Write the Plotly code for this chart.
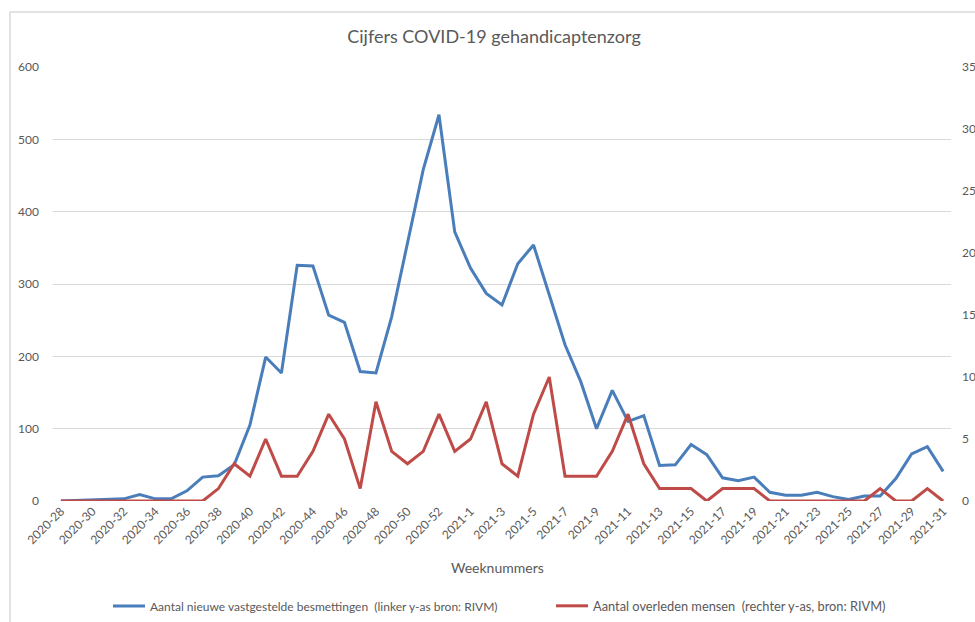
import plotly.graph_objects as go

weeks = [f"2020-{w}" for w in range(28, 54)] + [f"2021-{w}" for w in range(1, 32)]

besmettingen = [0, 1, 2, 3, 3, 9, 3, 3, 14, 33, 35, 50, 105, 199, 177, 326, 325, 257, 247, 179,
                177, 255, 355, 458, 534, 372, 322, 287, 271, 328, 354, 285, 216, 165, 100, 153,
                110, 118, 49, 50, 78, 64, 32, 28, 33, 12, 8, 8, 12, 6, 2, 7, 7, 31, 65, 75, 41]

overleden = [0, 0, 0, 0, 0, 0, 0, 0, 0, 0, 1, 3, 2, 5, 2, 2, 4, 7, 5, 1,
             8, 4, 3, 4, 7, 4, 5, 8, 3, 2, 7, 10, 2, 2, 2, 4, 7, 3, 1, 1,
             1, 0, 1, 1, 1, 0, 0, 0, 0, 0, 0, 0, 1, 0, 0, 1, 0]

tick_labels = weeks[::2]

FONT = "Lato, Open Sans, sans-serif"
GREY = "#595959"
W, H = 975, 622
L, R, T, B = 53, 24, 67, 121
pw, ph = W - L - R, H - T - B


def px_x(x):
    return (x - L) / pw


def px_y(y):
    return (H - B - y) / ph


fig = go.Figure()
fig.add_trace(go.Scatter(
    x=weeks, y=besmettingen, mode="lines",
    name="Aantal nieuwe vastgestelde besmettingen \u00a0(linker y-as bron: RIVM)",
    line=dict(color="#4A7EBB", width=3), yaxis="y", legend="legend"))
fig.add_trace(go.Scatter(
    x=weeks, y=overleden, mode="lines",
    name="Aantal overleden mensen \u00a0(rechter y-as, bron: RIVM)",
    line=dict(color="#BE4B48", width=3), yaxis="y2", legend="legend2"))

leg_common = dict(orientation="h", yanchor="middle", xanchor="left",
                  itemwidth=32, bgcolor="rgba(0,0,0,0)", borderwidth=0)

fig.update_layout(
    width=W, height=H,
    margin=dict(l=L, r=R, t=T, b=B, autoexpand=False),
    paper_bgcolor="white", plot_bgcolor="white",
    font=dict(family=FONT, color=GREY, size=12),
    title=dict(text="Cijfers COVID-19 gehandicaptenzorg", x=494 / W, xanchor="center",
               y=1 - 37 / H, yanchor="middle", font=dict(size=18, color=GREY, family=FONT)),
    xaxis=dict(type="category", categoryorder="array", categoryarray=weeks,
               range=[-0.5, len(weeks) - 0.5],
               tickmode="array", tickvals=tick_labels, ticktext=tick_labels,
               tickangle=-45, showgrid=False, showline=False, ticks="",
               tickfont=dict(size=12, color=GREY), zeroline=False),
    yaxis=dict(range=[0, 600], dtick=100, showgrid=True, gridcolor="#D9D9D9", gridwidth=1,
               zeroline=False, showline=False, ticks="", tickfont=dict(size=12, color=GREY),
               ticklabelstandoff=13),
    yaxis2=dict(range=[0, 35], dtick=5, overlaying="y", side="right", showgrid=False,
                zeroline=False, showline=False, ticks="", tickfont=dict(size=12, color=GREY),
                ticklabelstandoff=10),
    legend=dict(x=px_x(108), y=px_y(606), font=dict(size=12, color=GREY, family=FONT),
                **leg_common),
    legend2=dict(x=px_x(551), y=px_y(606), font=dict(size=12.8, color=GREY, family=FONT),
                 **leg_common),
    annotations=[dict(text="Weeknummers", xref="paper", yref="paper",
                      x=px_x(497), y=px_y(567), xanchor="center", yanchor="middle",
                      showarrow=False, font=dict(size=14, color=GREY, family=FONT))],
    shapes=[dict(type="rect", xref="paper", yref="paper",
                 x0=px_x(10), x1=px_x(990), y0=px_y(640), y1=px_y(12),
                 line=dict(color="#D9D9D9", width=1.5), layer="below")],
    showlegend=True,
)

fig.write_html("out.html", config={"displayModeBar": False},
               post_script="document.body.style.margin='0px';")
